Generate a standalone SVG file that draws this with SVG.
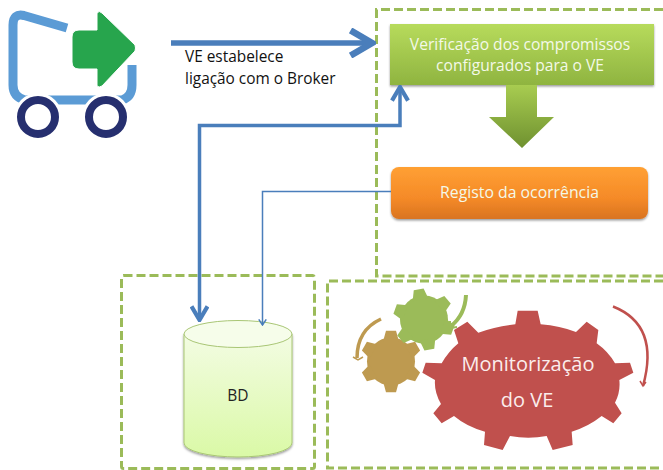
<svg xmlns="http://www.w3.org/2000/svg" xmlns:xlink="http://www.w3.org/1999/xlink" width="663" height="470" viewBox="0 0 663 470">
<style>
text{font-family:"Open Sans","Liberation Sans",sans-serif}
.dash{fill:none;stroke:#9BBB59;stroke-width:3;stroke-dasharray:9 4}
.wheel{fill:#fff;stroke:#262F6F;stroke-width:8}
.w{fill:#F4F9E8;text-anchor:middle}
.thick{fill:none;stroke:#4A7EBB;stroke-width:3.500}
.thin{fill:none;stroke:#4A7EBB;stroke-width:1.500}
</style>
<defs>
<linearGradient id="gGreen" x1="0" y1="0" x2="0" y2="1"><stop offset="0" stop-color="#B7DB5C"/><stop offset="1" stop-color="#8FB440"/></linearGradient>
<linearGradient id="gArrow" x1="0" y1="0" x2="0" y2="1"><stop offset="0" stop-color="#A8CC50"/><stop offset="1" stop-color="#6F9130"/></linearGradient>
<linearGradient id="gOrange" x1="0" y1="0" x2="0" y2="1"><stop offset="0" stop-color="#FFA033"/><stop offset=".6" stop-color="#F58A28"/><stop offset="1" stop-color="#D97420"/></linearGradient>
<linearGradient id="gCyl" x1="0" y1="0" x2="0" y2="1"><stop offset="0" stop-color="#F3FCE3"/><stop offset="1" stop-color="#DAF9A6"/></linearGradient>
<filter id="sh" x="-5%" y="-10%" width="110%" height="125%"><feDropShadow dx="0" dy="1.500" stdDeviation="1.200" flood-color="#000" flood-opacity=".4"/></filter>
<path id="tooth" d="M-8 -20L-5 -30.700L5 -30.700L8 -20Z"/>
<g id="gear6"><circle r="24"/><use xlink:href="#tooth"/><use xlink:href="#tooth" transform="rotate(60)"/><use xlink:href="#tooth" transform="rotate(120)"/><use xlink:href="#tooth" transform="rotate(180)"/><use xlink:href="#tooth" transform="rotate(240)"/><use xlink:href="#tooth" transform="rotate(300)"/></g>
<marker id="open" viewBox="0 0 12 12" refX="10.500" refY="6" markerWidth="5.500" markerHeight="5.500" orient="auto-start-reverse" markerUnits="strokeWidth"><path d="M2 1L10.500 6L2 11" fill="none" stroke="#4A7EBB" stroke-width="2.600"/></marker>
<marker id="openThin" viewBox="0 0 12 12" refX="10.500" refY="6" markerWidth="6" markerHeight="6" orient="auto" markerUnits="strokeWidth"><path d="M3 1L10.500 6L3 11" fill="none" stroke="#4A7EBB" stroke-width="2"/></marker>
</defs>
<rect width="663" height="470" fill="#fff"/>

<g id="frames">
<path class="dash" d="M663 9.500H376.500V276H663"/>
<rect class="dash" x="121.500" y="275.500" width="193" height="193" rx="2"/>
<path class="dash" d="M663 281H327.500V468H663"/>
</g>

<g id="vehicle">
<path d="M67 28L24 15.500Q13 13 13 25V85Q13 97 25 100H122Q132 97 132 85V65" fill="none" stroke="#5B9BD5" stroke-width="9"/>
<circle cx="38" cy="117" r="24" fill="#fff"/>
<circle cx="106" cy="117" r="24" fill="#fff"/>
<circle class="wheel" cx="38" cy="117" r="17"/>
<circle class="wheel" cx="106" cy="117" r="17"/>
<path d="M72 37Q72 30 79 30H97V13Q99 10 102 13L135 45Q136 48 135 51L102 86Q99 88 97 86V69H79Q72 69 72 62Z" fill="#27A54D" stroke="#fff" stroke-width="1"/>
</g>

<g id="verificacao">
<rect x="390" y="24" width="264" height="61" fill="url(#gGreen)" filter="url(#sh)"/>
<text class="w" x="520" y="50" font-size="15.600">Verificação dos compromissos</text>
<text class="w" x="520" y="71" font-size="15.600">configurados para o VE</text>
</g>
<g id="seta-verificacao">
<path d="M506 85H537V117H554L522 148L489 117H506Z" fill="url(#gArrow)"/>
</g>
<g id="registo">
<rect x="391" y="167" width="257" height="52" rx="8" fill="url(#gOrange)" filter="url(#sh)"/>
<text class="w" x="519.500" y="198" font-size="15.800">Registo da ocorrência</text>
</g>
<g id="bd">
<path d="M184 334V443A54 14 0 0 0 292 443V334Z" fill="url(#gCyl)" stroke="#A9C675" stroke-width="1" filter="url(#sh)"/>
<ellipse cx="238" cy="334" rx="54" ry="13.500" fill="#F6FDEA" stroke="#A9C675" stroke-width="1"/>
<text x="238" y="401" font-size="15.500" fill="#222" text-anchor="middle">BD</text>
</g>
<g id="monitorizacao">
<path fill="#C0504D" transform="translate(330 280) scale(.33333)" d="M556 133L563 92H623L632 133Q690 138 738 156L770 125L805 150L800 190Q835 215 855 250L900 248L910 278L868 300Q872 335 855 368L875 400L850 430L815 408Q775 440 725 455L728 495L668 510L650 468Q595 478 540 468L518 510L462 495L465 455Q410 440 372 408L335 430L310 400L333 372Q312 335 315 300L277 278L287 248L335 250Q355 215 385 190L372 150L412 125L445 158Q500 138 556 133Z"/>
<use xlink:href="#gear6" transform="translate(391 361.500)" fill="#BE9A50"/>
<use xlink:href="#gear6" transform="translate(424 319.500) rotate(-10)" fill="#9BBB59"/>
<path d="M381 319Q357 330 357 358" fill="none" stroke="#BE9A50" stroke-width="3.500"/>
<path d="M353 357L358 360L363 357" fill="none" stroke="#BE9A50" stroke-width="1.500"/>
<path d="M466 295Q465 315 451 326" fill="none" stroke="#9BBB59" stroke-width="4"/>
<path d="M450 321L450 328L457 327" fill="none" stroke="#9BBB59" stroke-width="2"/>
<path d="M613 306.500Q660 325 643 386" fill="none" stroke="#C0504D" stroke-width="2.500"/>
<path d="M640 381L643 386L646 382" fill="none" stroke="#C0504D" stroke-width="1.500"/>
<text x="528" y="371" font-size="20" fill="#FBEDEC" text-anchor="middle">Monitorização</text>
<text x="527" y="407" font-size="20" fill="#FBEDEC" text-anchor="middle">do VE</text>
</g>

<g id="connectors">
<path class="thick" marker-end="url(#open)" d="M171 43H372" style="stroke-width:5.500"/>
<path class="thick" marker-start="url(#open)" marker-end="url(#open)" d="M400 87V125.500H199.500V320"/>
<path class="thin" marker-end="url(#openThin)" d="M391 191.500H262.500V325"/>
</g>
<g id="label">
<text x="185" y="62" font-size="15.400" fill="#111">VE estabelece</text>
<text x="185" y="84" font-size="15.400" fill="#111">ligação com o Broker</text>
</g>
</svg>
